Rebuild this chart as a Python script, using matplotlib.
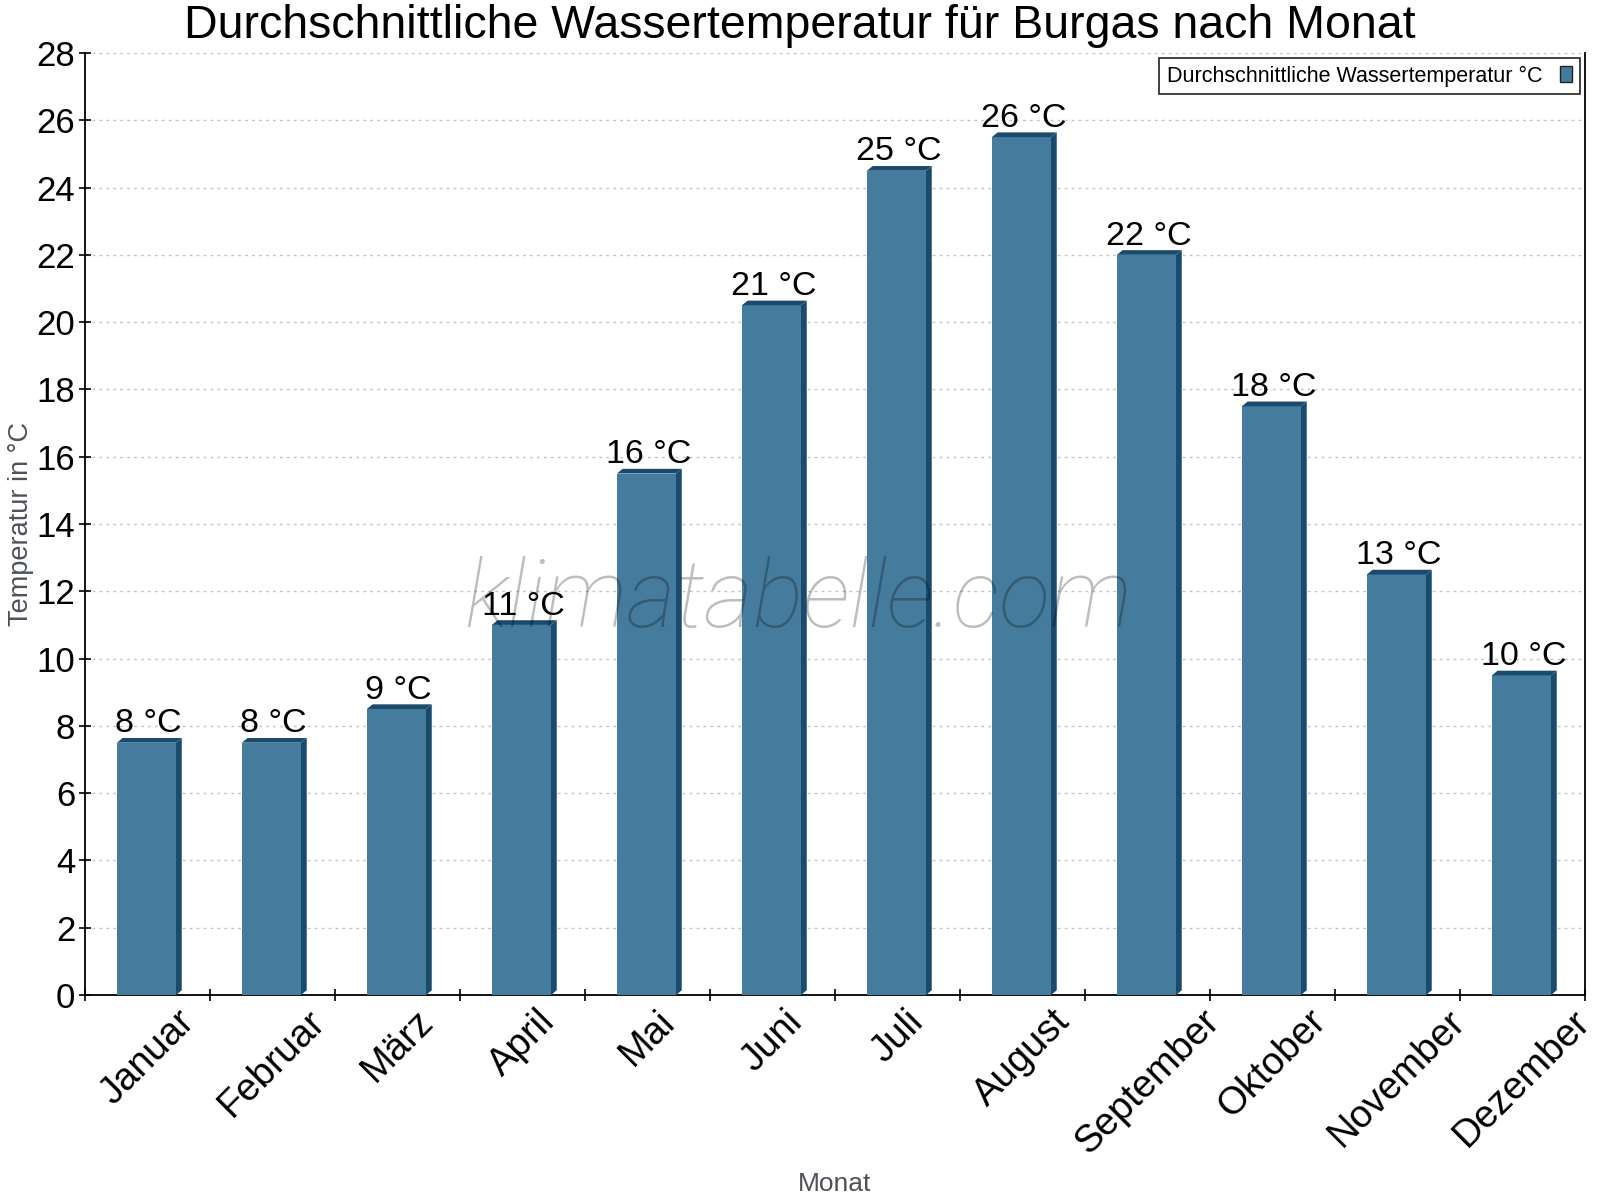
import matplotlib
matplotlib.use("Agg")
import matplotlib.pyplot as plt
from matplotlib.patches import Polygon, Rectangle
from matplotlib.ticker import FixedLocator, MultipleLocator

months = ["Januar", "Februar", "März", "April", "Mai", "Juni", "Juli",
          "August", "September", "Oktober", "November", "Dezember"]
water_temp = [7.5, 7.5, 8.5, 11, 15.5, 20.5, 24.5, 25.5, 22, 17.5, 12.5, 9.5]
bar_labels = ["8", "8", "9", "11", "16", "21", "25", "26", "22", "18", "13", "10"]

title = "Durchschnittliche Wassertemperatur für Burgas nach Monat"
series_name = "Durchschnittliche Wassertemperatur °C"
ylabel = "Temperatur in °C"
xlabel = "Monat"
watermark = "klimatabelle.com"

FRONT = "#457b9d"
DARK = "#1a4b6c"
FONT = ["Liberation Sans", "DejaVu Sans"]

plt.rcParams["font.family"] = FONT

fig = plt.figure(figsize=(16, 12), dpi=100)
ax = fig.add_axes([85 / 1600, 1 - 995 / 1200, 1500 / 1600, (995 - 53) / 1200])

ax.set_xlim(-0.5, len(months) - 0.5)
ax.set_ylim(0, 28)

x0_off, x1_off, dx, dy = -0.245, 0.228, 0.046, 0.14
for i, v in enumerate(water_temp):
    x0, x1 = i + x0_off, i + x1_off
    ax.add_patch(Rectangle((x0, 0), x1 - x0, v, facecolor=FRONT, edgecolor="none", zorder=3))
    ax.add_patch(Polygon([(x0, v), (x0 + dx, v + dy), (x1 + dx, v + dy), (x1, v)],
                         closed=True, facecolor=DARK, edgecolor="none", zorder=3))
    ax.add_patch(Polygon([(x1, 0), (x1 + dx, dy), (x1 + dx, v + dy), (x1, v)],
                         closed=True, facecolor=DARK, edgecolor="none", zorder=3))
    ax.annotate(f"{bar_labels[i]} °C", xy=(i + 0.01, v + dy), xytext=(0, 4),
                textcoords="offset points", ha="center", va="baseline",
                fontsize=24.5, color="black", zorder=5)

# grid
ax.yaxis.set_major_locator(MultipleLocator(2))
ax.grid(axis="y", color="#c4c4c4", linestyle=(0, (2, 3)), linewidth=1.0, zorder=0)
ax.set_axisbelow(True)

# x ticks at boundaries, labels at centers
ax.xaxis.set_major_locator(FixedLocator([i - 0.5 for i in range(len(months) + 1)]))
ax.xaxis.set_major_formatter(plt.NullFormatter())
ax.xaxis.set_minor_locator(FixedLocator(list(range(len(months)))))
ax.set_xticklabels(months, minor=True, rotation=45, ha="center", va="top", fontsize=27.5)
ax.tick_params(axis="x", which="minor", length=0, pad=6)
ax.tick_params(axis="x", which="major", direction="inout", length=8, width=1.2)
ax.tick_params(axis="y", direction="inout", length=8, width=1.2, labelsize=25, pad=3)

for s in ["left", "bottom", "right"]:
    ax.spines[s].set_linewidth(1.3)
    ax.spines[s].set_color("black")
ax.spines["top"].set_visible(False)

fig.text(21 / 1600, 1 - 524 / 1200, ylabel, fontsize=19.5, color="#4d5259",
         rotation=90, ha="center", va="center")
fig.text(835 / 1600, 1 - 1184 / 1200, xlabel, fontsize=19, color="#4d5259",
         ha="center", va="center")

fig.text(0.5, 1 - 38 / 1200, title, fontsize=33.5, ha="center", va="baseline", color="black")

# watermark
fig.text(798 / 1600, 1 - 627 / 1200, watermark, fontsize=68, family=["Roboto", "DejaVu Sans"],
         style="italic", weight="light", color="black", alpha=0.26, ha="center",
         va="baseline", zorder=10)

# legend
handle = Rectangle((0, 0), 1, 1, facecolor=FRONT, edgecolor="#222222", linewidth=1)
leg = fig.legend([handle], [series_name], loc="upper right",
                 bbox_to_anchor=(1580 / 1600, 1 - 58 / 1200), markerfirst=False,
                 fontsize=15.5, frameon=True, fancybox=False, shadow=False,
                 borderaxespad=0, handlelength=0.6, handleheight=0.8,
                 handletextpad=0.8, borderpad=0.35)
leg.get_frame().set_edgecolor("black")
leg.get_frame().set_linewidth(1.3)

fig.savefig("out.png", dpi=100)
